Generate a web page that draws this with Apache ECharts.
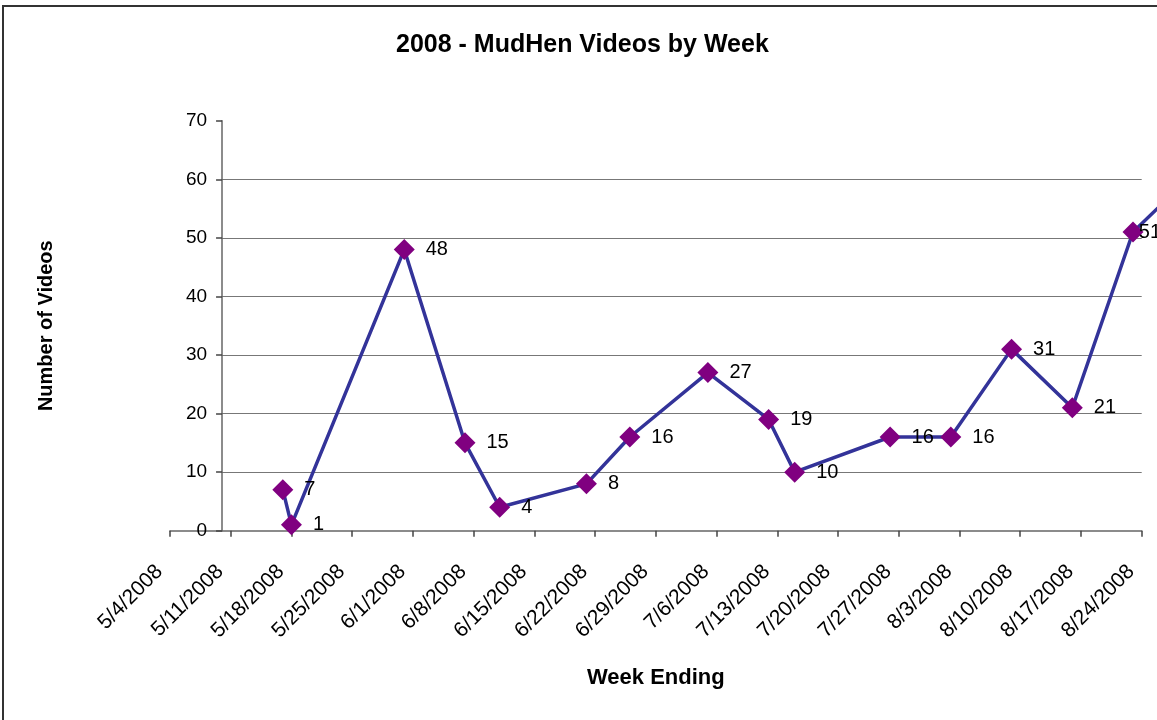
<!DOCTYPE html>
<html>
<head>
<meta charset="utf-8">
<script src="https://cdn.jsdelivr.net/npm/echarts@6/dist/echarts.min.js"></script>
<style>
html,body{margin:0;padding:0;background:#fff;}
#main{width:1157px;height:720px;}
</style>
</head>
<body>
<div id="main"></div>
<script>
// week ending dates and number of videos (last point runs off the right edge)
var weekDates=['5/17/2008','5/18/2008','5/31/2008','6/7/2008','6/11/2008','6/21/2008','6/26/2008','7/5/2008',
	'7/12/2008','7/15/2008','7/26/2008','8/2/2008','8/9/2008','8/16/2008','8/23/2008','8/30/2008'];
var videoCounts=[7,1,48,15,4,8,16,27,19,10,16,16,31,21,51,61];
var axisStart='5/4/2008';   // first tick
var axisEnd='8/24/2008';    // last tick
var yCross='5/10/2008';     // vertical axis crosses here
var yTicks=[0,10,20,30,40,50,60,70];

var fontName="'Liberation Sans', Arial, sans-serif";

function toDate(s){
	var p=s.split("/");
	return new Date(Number(p[2]),Number(p[0])-1,Number(p[1]));
}
function dayOf(s){
	return Math.round((toDate(s)-toDate(axisStart))/86400000);
}
function dayLabel(d){
	var dt=toDate(axisStart);
	dt.setDate(dt.getDate()+d);
	return (dt.getMonth()+1)+"/"+dt.getDate()+"/"+dt.getFullYear();
}

var W=1157, H=720;
var maxDay=dayOf(axisEnd);
var crossDay=dayOf(yCross);
var plotLeft=170, plotRight=1141.7, plotTop=120.7, plotBottom=530.7;
var chartEdge=1161;   // right edge of the chart area (just off the picture)
var dayPx=(plotRight-plotLeft)/maxDay;
// the line runs on to the picture edge, past the last tick
var edgeDay=maxDay+(W-plotRight)/dayPx;

var points=[];
for(var i=0;i<weekDates.length;i++){
	var d=dayOf(weekDates[i]);
	var item={value:[d,videoCounts[i]]};
	if(d>maxDay){
		item.label={show:false};
	}
	points.push(item);
}

var myChart=echarts.init(document.getElementById('main'),null,{renderer:'canvas'});
var option={
	backgroundColor:'#fff',
	animation:false,
	title:{
		text:'2008 - MudHen Videos by Week',
		left:391,
		top:28,
		textStyle:{fontFamily:fontName,fontSize:25,fontWeight:'bold',color:'#000'}
	},
	graphic:[{
		type:'rect',
		shape:{x:3,y:6,width:2000,height:2000},
		style:{fill:'none',stroke:'#333',lineWidth:2},
		silent:true
	}],
	grid:[
		// full width of the date axis
		{left:plotLeft,right:W-plotRight,top:plotTop,bottom:H-plotBottom},
		// plot area, starting where the value axis crosses
		{left:plotLeft+crossDay*dayPx,right:W-plotRight,top:plotTop,bottom:H-plotBottom},
		// same scale, reaching the picture edge, for the series
		{left:plotLeft+crossDay*dayPx,right:0,top:plotTop,bottom:H-plotBottom}
	],
	xAxis:[
		{
			gridIndex:0,
			type:'value',
			min:0,
			max:maxDay,
			interval:7,
			name:'Week Ending',
			nameLocation:'middle',
			nameGap:136,
			nameTextStyle:{fontFamily:fontName,fontSize:22,fontWeight:'bold',color:'#000'},
			axisLine:{show:true,lineStyle:{color:'#666',width:1.5}},
			axisTick:{show:true,length:6,lineStyle:{color:'#444',width:1.5}},
			splitLine:{show:false},
			axisLabel:{
				rotate:45,
				margin:27,
				padding:[0,15,0,0],
				fontFamily:fontName,
				fontSize:21,
				color:'#000',
				formatter:function(v){return dayLabel(v);}
			}
		},
		{gridIndex:1,type:'value',min:crossDay,max:maxDay,show:false},
		{gridIndex:2,type:'value',min:crossDay,max:edgeDay,show:false}
	],
	yAxis:[
		{gridIndex:0,type:'value',min:0,max:70,show:false},
		{
			gridIndex:1,
			type:'value',
			min:yTicks[0],
			max:yTicks[yTicks.length-1],
			interval:10,
			name:'Number of Videos',
			nameLocation:'middle',
			nameGap:166,
			nameRotate:90,
			nameTextStyle:{fontFamily:fontName,fontSize:20,fontWeight:'bold',color:'#000'},
			axisLine:{show:true,lineStyle:{color:'#666',width:1.5}},
			axisTick:{show:true,length:6,lineStyle:{color:'#444',width:1.5}},
			axisLabel:{margin:15,fontFamily:fontName,fontSize:19,color:'#000'},
			splitLine:{show:true,showMinLine:false,showMaxLine:false,lineStyle:{color:'#777',width:1.2}}
		},
		{gridIndex:2,type:'value',min:yTicks[0],max:yTicks[yTicks.length-1],show:false}
	],
	series:[{
		type:'line',
		xAxisIndex:2,
		yAxisIndex:2,
		data:points,
		symbol:'diamond',
		symbolSize:21,
		itemStyle:{color:'#800080'},
		lineStyle:{color:'#333399',width:3.5},
		label:{
			show:true,
			position:'right',
			distance:11,
			fontFamily:fontName,
			fontSize:20,
			color:'#000',
			formatter:function(p){return p.value[1];}
		},
		// keep labels inside the chart area, like the spreadsheet does
		labelLayout:function(p){
			var r=p.labelRect;
			if(r.x+r.width>chartEdge){
				return {dx:chartEdge-(r.x+r.width)};
			}
			return {};
		},
		z:3
	}]
};
myChart.setOption(option);
</script>
</body>
</html>
